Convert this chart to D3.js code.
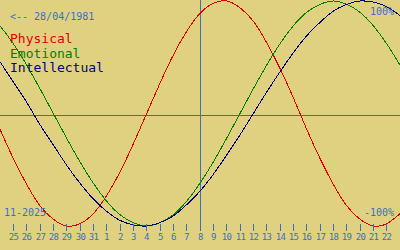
<!DOCTYPE html>
<html>
<head>
<meta charset="utf-8">
<script src="https://cdn.jsdelivr.net/npm/d3@7"></script>
<style>
  html, body { margin: 0; padding: 0; background: #e0d181; }
  svg { display: block; }
  text { font-family: "DejaVu Sans Mono", "Liberation Mono", monospace; }
</style>
</head>
<body>
<svg id="chart" width="400" height="250"></svg>
<script>
// days shown (24 Oct .. 23 Nov 2025), first and last fall on the edges
const dayLabels = ['24', '25', '26', '27', '28', '29', '30', '31',
  '1', '2', '3', '4', '5', '6', '7', '8', '9', '10', '11', '12', '13', '14',
  '15', '16', '17', '18', '19', '20', '21', '22', '23'];

const physical = [-0.14, -0.40, -0.63, -0.82, -0.94, -1.00, -0.98, -0.89, -0.73, -0.52,
  -0.27, 0.00, 0.27, 0.52, 0.73, 0.89, 0.98, 1.00, 0.94, 0.82, 0.63, 0.40, 0.14,
  -0.14, -0.40, -0.63, -0.82, -0.94, -1.00, -0.98, -0.89];

const emotional = [0.78, 0.62, 0.43, 0.22, 0.00, -0.22, -0.43, -0.62, -0.78, -0.90,
  -0.97, -1.00, -0.97, -0.90, -0.78, -0.62, -0.43, -0.22, 0.00, 0.22, 0.43, 0.62,
  0.78, 0.90, 0.97, 1.00, 0.97, 0.90, 0.78, 0.62, 0.43];

const intellectual = [0.46, 0.28, 0.10, -0.10, -0.28, -0.46, -0.62, -0.76, -0.87, -0.95,
  -0.99, -1.00, -0.97, -0.91, -0.81, -0.69, -0.54, -0.37, -0.19, 0.00, 0.19, 0.37,
  0.54, 0.69, 0.81, 0.91, 0.97, 1.00, 0.99, 0.95, 0.87];

const seriesNames = ['Physical', 'Emotional', 'Intellectual'];
const seriesColors = ['#e00000', '#008000', '#000080'];
const birthLabel = '<-- 28/04/1981';
const monthLabel = '11-2025';
const todayIndex = 15; // 8 Nov

const width = 400;
const height = 250;
const plotHeight = 230;
const blue = '#3a70c0';

const svg = d3.select('#chart');

svg.append('rect')
  .attr('width', width)
  .attr('height', height)
  .attr('fill', '#e0d181');

const x = d3.scaleLinear()
  .domain([0, dayLabels.length - 1])
  .range([0, width]);

const y = d3.scaleLinear()
  .domain([-1, 1])
  .range([226, 1]);

const px = v => Math.floor(v) + 0.5;

// centre line
svg.append('line')
  .attr('x1', 0)
  .attr('x2', width)
  .attr('y1', px(plotHeight / 2))
  .attr('y2', px(plotHeight / 2))
  .attr('stroke', '#4a68a0')
  .attr('stroke-width', 1)
  .attr('shape-rendering', 'crispEdges');

// today
svg.append('line')
  .attr('x1', px(x(todayIndex)))
  .attr('x2', px(x(todayIndex)))
  .attr('y1', 0)
  .attr('y2', plotHeight)
  .attr('stroke', blue)
  .attr('stroke-width', 1)
  .attr('shape-rendering', 'crispEdges');

const line = d3.line()
  .x((d, i) => x(i))
  .y(d => y(d))
  .curve(d3.curveNatural);

[physical, emotional, intellectual].forEach((values, k) => {
  svg.append('path')
    .datum(values)
    .attr('fill', 'none')
    .attr('stroke', seriesColors[k])
    .attr('stroke-width', 1)
    .attr('shape-rendering', 'crispEdges')
    .attr('d', line);
});

// x axis (day ticks)
const tickIdx = d3.range(1, dayLabels.length - 1);
const axis = svg.append('g')
  .attr('transform', 'translate(0,224)')
  .call(d3.axisBottom(x)
    .tickValues(tickIdx)
    .tickFormat(i => dayLabels[i])
    .tickSize(7)
    .tickPadding(2.5));
axis.select('.domain').remove();
axis.selectAll('.tick')
  .attr('transform', d => `translate(${px(x(d))},0)`);
axis.selectAll('line')
  .attr('stroke', blue)
  .attr('shape-rendering', 'crispEdges');
axis.selectAll('text')
  .attr('fill', blue)
  .attr('font-size', 9)
  .attr('letter-spacing', -0.6)
  .attr('font-family', '"DejaVu Sans Mono", monospace');

// texts
svg.append('text')
  .attr('x', 10)
  .attr('y', 20)
  .attr('font-size', 10)
  .attr('fill', blue)
  .text(birthLabel);

seriesNames.forEach((name, k) => {
  svg.append('text')
    .attr('x', 10)
    .attr('y', 43 + k * 14.5)
    .attr('font-size', 13)
    .attr('fill', seriesColors[k])
    .text(name);
});

svg.append('text')
  .attr('x', 394)
  .attr('y', 15)
  .attr('text-anchor', 'end')
  .attr('font-size', 10)
  .attr('fill', blue)
  .text('100%');

svg.append('text')
  .attr('x', 394)
  .attr('y', 216)
  .attr('text-anchor', 'end')
  .attr('font-size', 10)
  .attr('fill', blue)
  .text('-100%');

svg.append('text')
  .attr('x', 4)
  .attr('y', 216)
  .attr('font-size', 10)
  .attr('fill', blue)
  .text(monthLabel);
</script>
</body>
</html>
